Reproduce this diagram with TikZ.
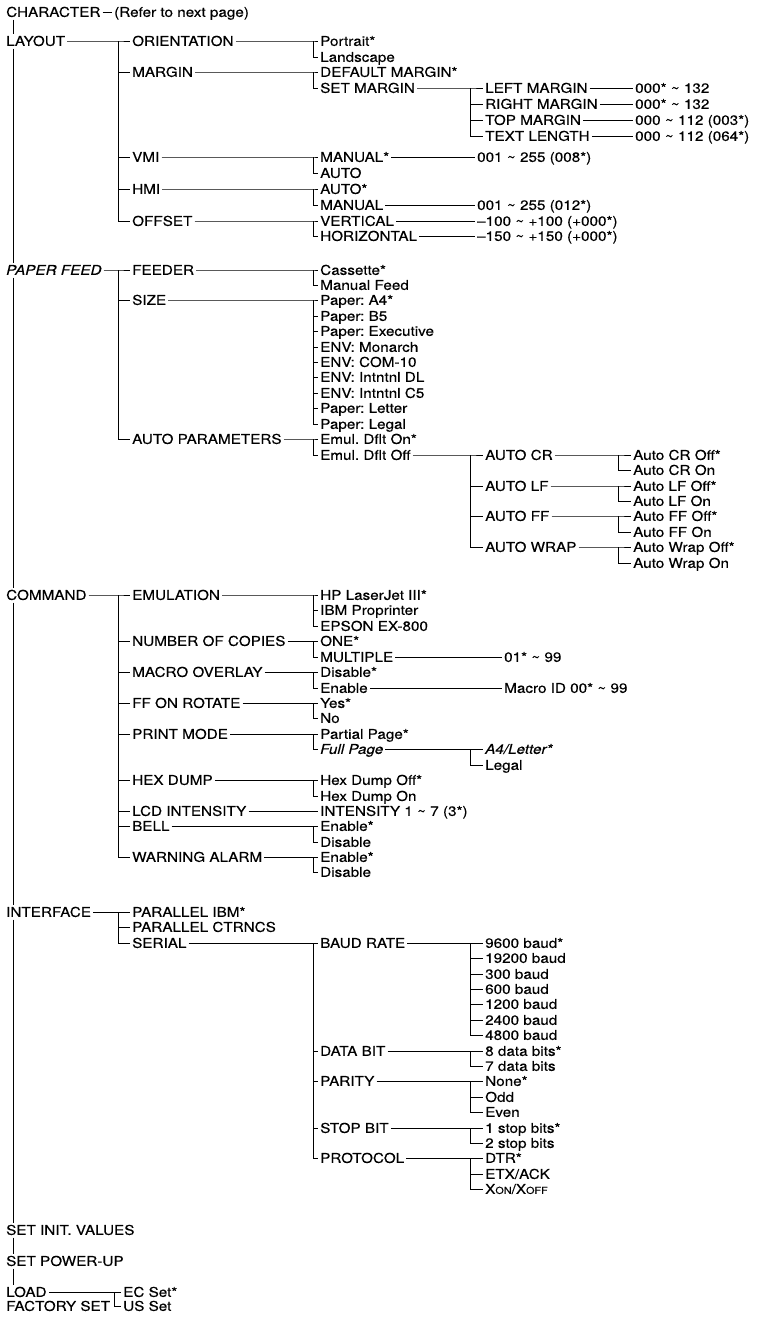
\documentclass[tikz,border=0pt]{standalone}
\usepackage{fontspec}
\setmainfont{TeX Gyre Heros}[FakeStretch=1.13,FakeBold=0.3]
\frenchspacing
\newcommand{\tl}{\textasciitilde}
\newcommand{\smc}[1]{{\fontsize{9.6}{10}\selectfont #1}}
\newcommand{\branch}[3]{%
  \foreach \nn [count=\ii] in {#3}{%
    \ifnum\ii=1
      \draw[conn] (#1.east) -- (\nn.west -| #2) -- (\nn.west);
      \xdef\brfirst{\nn}%
    \else
      \draw[conn] (\nn.west -| #2) -- (\nn.west);
    \fi
    \xdef\brlast{\nn}%
  }%
  \draw[conn] (\brfirst.west -| #2) -- (\brlast.west -| #2);
}
\tikzset{
  conn/.style={line width=0.7pt, black},
  lbl/.style={anchor=west, inner xsep=2pt, inner ysep=0pt, text height=9.7pt, text depth=0pt,
    font=\fontsize{13.5}{15}\selectfont\frenchspacing},
}
\begin{document}
\begin{tikzpicture}[x=1pt,y=-1pt]
\useasboundingbox[fill=white] (0,0) rectangle (757,1318);
\coordinate (sp) at (13,0);
\coordinate (va) at (118,0);
\coordinate (vb) at (313,0);
\coordinate (vc) at (470,0);
\coordinate (vd) at (618,0);
\coordinate (ve) at (114,0);

% ---------- CHARACTER
\node[lbl] (char) at (4,12) {CHARACTER};
\node[lbl] (refer) at (112,12) {(Refer to next page)};

% ---------- LAYOUT
\node[lbl] (layout) at (4,41) {LAYOUT};
\node[lbl] (orient) at (130,41) {ORIENTATION};
\node[lbl] (portrait) at (318,41) {Portrait*};
\node[lbl] (landscape) at (318,57) {Landscape};
\node[lbl] (margin) at (130,72) {MARGIN};
\node[lbl] (defmargin) at (318,72) {DEFAULT MARGIN*};
\node[lbl] (setmargin) at (318,88) {SET MARGIN};
\node[lbl] (leftm) at (483,88) {LEFT MARGIN};
\node[lbl] (rightm) at (483,104) {RIGHT MARGIN};
\node[lbl] (topm) at (483,120) {TOP MARGIN};
\node[lbl] (textl) at (483,136) {TEXT LENGTH};
\node[lbl] (leftv) at (633,88) {000* \tl{} 132};
\node[lbl] (rightv) at (633,104) {000* \tl{} 132};
\node[lbl] (topv) at (633,120) {000 \tl{} 112 (003*)};
\node[lbl] (textv) at (633,136) {000 \tl{} 112 (064*)};
\node[lbl] (vmi) at (130,157) {VMI};
\node[lbl] (vmiman) at (318,157) {MANUAL*};
\node[lbl] (vmival) at (475,157) {001 \tl{} 255 (008*)};
\node[lbl] (vmiauto) at (318,173) {AUTO};
\node[lbl] (hmi) at (130,189) {HMI};
\node[lbl] (hmiauto) at (318,189) {AUTO*};
\node[lbl] (hmiman) at (318,205) {MANUAL};
\node[lbl] (hmival) at (475,205) {001 \tl{} 255 (012*)};
\node[lbl] (offset) at (130,221) {OFFSET};
\node[lbl] (vert) at (318,221) {VERTICAL};
\node[lbl] (vertv) at (475,221) {\textendash100 \tl{} +100 (+000*)};
\node[lbl] (horiz) at (318,236) {HORIZONTAL};
\node[lbl] (horizv) at (475,236) {\textendash150 \tl{} +150 (+000*)};

% ---------- PAPER FEED
\node[lbl] (pfeed) at (4,270) {\itshape PAPER FEED};
\node[lbl] (feeder) at (130,270) {FEEDER};
\node[lbl] (cassette) at (318,270) {Cassette*};
\node[lbl] (manual) at (318,285) {Manual Feed};
\node[lbl] (size) at (130,300) {SIZE};
\node[lbl] (sa) at (318,300) {Paper: A4*};
\node[lbl] (sb) at (318,316) {Paper: B5};
\node[lbl] (sc) at (318,331) {Paper: Executive};
\node[lbl] (sd) at (318,347) {ENV: Monarch};
\node[lbl] (se) at (318,362) {ENV: COM-10};
\node[lbl] (sf) at (318,377) {ENV: Intntnl DL};
\node[lbl] (sg) at (318,393) {ENV: Intntnl C5};
\node[lbl] (sh) at (318,408) {Paper: Letter};
\node[lbl] (si) at (318,424) {Paper: Legal};
\node[lbl] (autopar) at (130,439) {AUTO PARAMETERS};
\node[lbl] (dflton) at (318,439) {Emul. Dflt On*};
\node[lbl] (dfltoff) at (318,455) {Emul. Dflt Off};
\node[lbl] (autocr) at (483,455) {AUTO CR};
\node[lbl] (autolf) at (483,486) {AUTO LF};
\node[lbl] (autoff) at (483,516) {AUTO FF};
\node[lbl] (autowrap) at (483,547) {AUTO WRAP};
\node[lbl] (crof) at (631,455) {Auto CR Off*};
\node[lbl] (cron) at (631,470) {Auto CR On};
\node[lbl] (lfof) at (631,486) {Auto LF Off*};
\node[lbl] (lfon) at (631,501) {Auto LF On};
\node[lbl] (ffof) at (631,516) {Auto FF Off*};
\node[lbl] (ffon) at (631,532) {Auto FF On};
\node[lbl] (wrof) at (631,547) {Auto Wrap Off*};
\node[lbl] (wron) at (631,563) {Auto Wrap On};

% ---------- COMMAND
\node[lbl] (command) at (4,595) {COMMAND};
\node[lbl] (emul) at (130,595) {EMULATION};
\node[lbl] (hp) at (318,595) {HP LaserJet III*};
\node[lbl] (ibm) at (318,610) {IBM Proprinter};
\node[lbl] (epson) at (318,626) {EPSON EX-800};
\node[lbl] (copies) at (130,641) {NUMBER OF COPIES};
\node[lbl] (one) at (318,641) {ONE*};
\node[lbl] (multiple) at (318,657) {MULTIPLE};
\node[lbl] (multv) at (502,657) {01* \tl{} 99};
\node[lbl] (macro) at (130,672) {MACRO OVERLAY};
\node[lbl] (disable) at (318,672) {Disable*};
\node[lbl] (enable) at (318,688) {Enable};
\node[lbl] (macroid) at (502,688) {Macro ID 00* \tl{} 99};
\node[lbl] (ffrot) at (130,703) {FF ON ROTATE};
\node[lbl] (yes) at (318,703) {Yes*};
\node[lbl] (no) at (318,718) {No};
\node[lbl] (pmode) at (130,734) {PRINT MODE};
\node[lbl] (partial) at (318,734) {Partial Page*};
\node[lbl] (full) at (318,749) {\itshape Full Page};
\node[lbl] (afour) at (483,749) {\itshape A4/Letter*};
\node[lbl] (legal) at (483,765) {Legal};
\node[lbl] (hex) at (130,780) {HEX DUMP};
\node[lbl] (hexoff) at (318,780) {Hex Dump Off*};
\node[lbl] (hexon) at (318,796) {Hex Dump On};
\node[lbl] (lcd) at (130,811) {LCD INTENSITY};
\node[lbl] (intens) at (318,811) {INTENSITY 1 \tl{} 7 (3*)};
\node[lbl] (bell) at (130,826) {BELL};
\node[lbl] (bellen) at (318,826) {Enable*};
\node[lbl] (belldis) at (318,842) {Disable};
\node[lbl] (warn) at (130,857) {WARNING ALARM};
\node[lbl] (warnen) at (318,857) {Enable*};
\node[lbl] (warndis) at (318,872) {Disable};

% ---------- INTERFACE
\node[lbl] (interface) at (4,912) {INTERFACE};
\node[lbl] (paribm) at (130,912) {PARALLEL IBM*};
\node[lbl] (parctr) at (130,927) {PARALLEL CTRNCS};
\node[lbl] (serial) at (130,943) {SERIAL};
\node[lbl] (baud) at (318,943) {BAUD RATE};
\node[lbl] (ba) at (483,943) {9600 baud*};
\node[lbl] (bb) at (483,958) {19200 baud};
\node[lbl] (bc) at (483,974) {300 baud};
\node[lbl] (bd) at (483,989) {600 baud};
\node[lbl] (be) at (483,1004) {1200 baud};
\node[lbl] (bf) at (483,1020) {2400 baud};
\node[lbl] (bg) at (483,1035) {4800 baud};
\node[lbl] (databit) at (318,1051) {DATA BIT};
\node[lbl] (deight) at (483,1051) {8 data bits*};
\node[lbl] (dseven) at (483,1066) {7 data bits};
\node[lbl] (parity) at (318,1081) {PARITY};
\node[lbl] (none) at (483,1081) {None*};
\node[lbl] (odd) at (483,1097) {Odd};
\node[lbl] (even) at (483,1112) {Even};
\node[lbl] (stopbit) at (318,1128) {STOP BIT};
\node[lbl] (sone) at (483,1128) {1 stop bits*};
\node[lbl] (stwo) at (483,1143) {2 stop bits};
\node[lbl] (protocol) at (318,1158) {PROTOCOL};
\node[lbl] (dtr) at (483,1158) {DTR*};
\node[lbl] (etx) at (483,1174) {ETX/ACK};
\node[lbl] (xon) at (483,1189) {X\smc{ON}/X\smc{OFF}};

% ---------- bottom
\node[lbl] (setinit) at (4,1230) {SET INIT. VALUES};
\node[lbl] (setpower) at (4,1261) {SET POWER-UP};
\node[lbl] (load) at (4,1292) {LOAD};
\node[lbl] (factory) at (4,1306) {FACTORY SET};
\node[lbl] (ecset) at (121,1292) {EC Set*};
\node[lbl] (usset) at (121,1306) {US Set};

% ---------- spine
\foreach \a/\b in {char/layout, layout/pfeed, pfeed/command, command/interface,
                   interface/setinit, setinit/setpower, setpower/load}
  \draw[conn] ([yshift=-2.5pt]\a.south -| sp) -- ([yshift=2pt]\b.north -| sp);

% ---------- connectors
\draw[conn] (char.east) -- (refer.west);
\branch{layout}{va}{orient,margin,vmi,hmi,offset}
\branch{orient}{vb}{portrait,landscape}
\branch{margin}{vb}{defmargin,setmargin}
\branch{setmargin}{vc}{leftm,rightm,topm,textl}
\draw[conn] (leftm.east) -- (leftv.west);
\draw[conn] (rightm.east) -- (rightv.west);
\draw[conn] (topm.east) -- (topv.west);
\draw[conn] (textl.east) -- (textv.west);
\branch{vmi}{vb}{vmiman,vmiauto}
\draw[conn] (vmiman.east) -- (vmival.west);
\branch{hmi}{vb}{hmiauto,hmiman}
\draw[conn] (hmiman.east) -- (hmival.west);
\branch{offset}{vb}{vert,horiz}
\draw[conn] (vert.east) -- (vertv.west);
\draw[conn] (horiz.east) -- (horizv.west);

\branch{pfeed}{va}{feeder,size,autopar}
\branch{feeder}{vb}{cassette,manual}
\branch{size}{vb}{sa,sb,sc,sd,se,sf,sg,sh,si}
\branch{autopar}{vb}{dflton,dfltoff}
\branch{dfltoff}{vc}{autocr,autolf,autoff,autowrap}
\branch{autocr}{vd}{crof,cron}
\branch{autolf}{vd}{lfof,lfon}
\branch{autoff}{vd}{ffof,ffon}
\branch{autowrap}{vd}{wrof,wron}

\branch{command}{va}{emul,copies,macro,ffrot,pmode,hex,lcd,bell,warn}
\branch{emul}{vb}{hp,ibm,epson}
\branch{copies}{vb}{one,multiple}
\draw[conn] (multiple.east) -- (multv.west);
\branch{macro}{vb}{disable,enable}
\draw[conn] (enable.east) -- (macroid.west);
\branch{ffrot}{vb}{yes,no}
\branch{pmode}{vb}{partial,full}
\branch{full}{vc}{afour,legal}
\branch{hex}{vb}{hexoff,hexon}
\draw[conn] (lcd.east) -- (intens.west);
\branch{bell}{vb}{bellen,belldis}
\branch{warn}{vb}{warnen,warndis}

\branch{interface}{va}{paribm,parctr,serial}
\branch{serial}{vb}{baud,databit,parity,stopbit,protocol}
\branch{baud}{vc}{ba,bb,bc,bd,be,bf,bg}
\branch{databit}{vc}{deight,dseven}
\branch{parity}{vc}{none,odd,even}
\branch{stopbit}{vc}{sone,stwo}
\branch{protocol}{vc}{dtr,etx,xon}

\branch{load}{ve}{ecset,usset}
\end{tikzpicture}
\end{document}
